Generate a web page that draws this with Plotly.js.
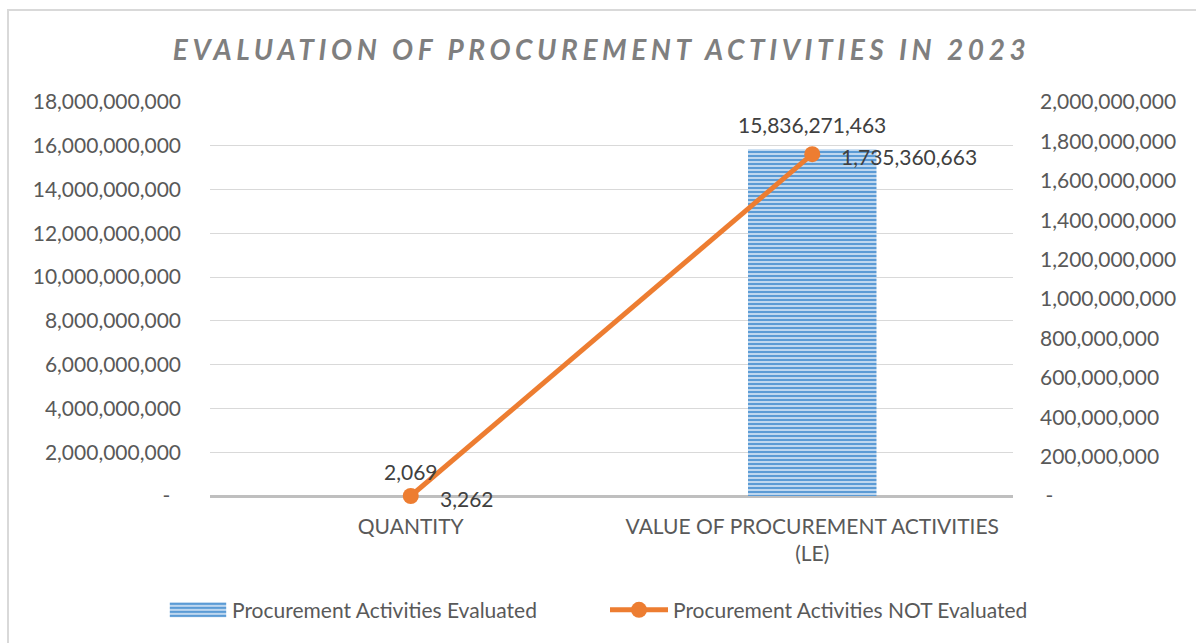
<!DOCTYPE html>
<html>
<head>
<meta charset="utf-8">
<script src="https://cdn.plot.ly/plotly-3.0.1.min.js"></script>
<style>
  html, body { margin: 0; padding: 0; background: #ffffff; overflow: hidden; }
  #chart { position: absolute; left: 0; top: 0; width: 1196px; height: 643px; }
  #frame { position: absolute; left: 7px; top: 9px; width: 1300px; height: 800px;
           border: 2px solid #d9d9d9; pointer-events: none; }
  .gtitle { letter-spacing: 4.6px; }
</style>
</head>
<body>
<div id="chart"></div>
<div id="frame"></div>
<script>
// ---- data ----
const categories = ["QUANTITY", "VALUE OF PROCUREMENT ACTIVITIES<br>(LE)"];
const evaluatedValues = [2069, 15836271463];
const notEvaluatedValues = [3262, 1735360663];
const seriesNames = ["Procurement Activities Evaluated", "Procurement Activities NOT Evaluated"];
const titleText = "EVALUATION OF PROCUREMENT ACTIVITIES IN 2023";

const leftTickVals = [0, 2000000000, 4000000000, 6000000000, 8000000000, 10000000000, 12000000000, 14000000000, 16000000000, 18000000000];
const leftTickText = ["-\u00A0\u00A0", "2,000,000,000", "4,000,000,000", "6,000,000,000", "8,000,000,000", "10,000,000,000", "12,000,000,000", "14,000,000,000", "16,000,000,000", "18,000,000,000"];
const rightTickVals = [0, 200000000, 400000000, 600000000, 800000000, 1000000000, 1200000000, 1400000000, 1600000000, 1800000000, 2000000000];
const rightTickText = ["\u00A0-", "200,000,000", "400,000,000", "600,000,000", "800,000,000", "1,000,000,000", "1,200,000,000", "1,400,000,000", "1,600,000,000", "1,800,000,000", "2,000,000,000"];

const fmt = v => v.toLocaleString("en-US");

const FONT = "Lato, 'Open Sans', sans-serif";
const textColor = "#595959";
const labelColor = "#404040";

const traces = [
  {
    type: "bar",
    name: seriesNames[0],
    legend: "legend",
    x: categories,
    y: evaluatedValues,
    yaxis: "y",
    marker: {
      color: "#9dc3e6",
      line: { width: 0 },
      pattern: { shape: "-", fgcolor: "#5b9bd5", bgcolor: "#c9def2", size: 4, solidity: 0.55, fillmode: "replace" }
    },
    hoverinfo: "skip"
  },
  {
    type: "scatter",
    mode: "lines+markers",
    name: seriesNames[1],
    legend: "legend2",
    x: categories,
    y: notEvaluatedValues,
    yaxis: "y2",
    cliponaxis: false,
    line: { color: "#ed7d31", width: 5 },
    marker: { color: "#ed7d31", size: 16, symbol: "circle" },
    hoverinfo: "skip"
  }
];

// data labels as annotations anchored to the data values
const annotations = [];
categories.forEach((c, i) => {
  annotations.push({
    x: c, y: evaluatedValues[i], xref: "x", yref: "y",
    text: fmt(evaluatedValues[i]), showarrow: false,
    xanchor: "center", yanchor: "middle", yshift: 25,
    font: { family: FONT, size: 21, color: labelColor }
  });
  annotations.push({
    x: c, y: notEvaluatedValues[i], xref: "x", yref: "y2",
    text: fmt(notEvaluatedValues[i]), showarrow: false,
    xanchor: "left", yanchor: "middle", xshift: 27, yshift: -2,
    font: { family: FONT, size: 21, color: labelColor }
  });
});

const legendCommon = {
  orientation: "h",
  xref: "container", yref: "container",
  xanchor: "left", yanchor: "middle",
  y: 0.051,
  font: { family: FONT, size: 21, color: textColor },
  itemwidth: 58,
  bgcolor: "rgba(0,0,0,0)"
};

const layout = {
  width: 1196,
  height: 643,
  paper_bgcolor: "rgba(0,0,0,0)",
  plot_bgcolor: "rgba(0,0,0,0)",
  margin: { l: 210, r: 183, t: 102, b: 147, pad: 0, autoexpand: false },
  font: { family: FONT, size: 21, color: textColor },
  title: {
    text: "<b><i>" + titleText + "</i></b>",
    font: { family: FONT, size: 28, color: "#7f7f7f" },
    x: 0.503, xref: "container", xanchor: "center",
    y: 0.922, yref: "container", yanchor: "middle"
  },
  bargap: 0.68,
  showlegend: true,
  legend: Object.assign({}, legendCommon, { x: 164 / 1196 }),
  legend2: Object.assign({}, legendCommon, { x: 605 / 1196 }),
  annotations: annotations,
  xaxis: {
    type: "category",
    tickfont: { family: FONT, size: 21, color: textColor },
    showgrid: false,
    showline: false,
    ticks: "",
    zeroline: false,
    ticklabelstandoff: 16
  },
  yaxis: {
    range: [0, 18000000000],
    tickvals: leftTickVals,
    ticktext: leftTickText,
    tickfont: { family: FONT, size: 21, color: textColor },
    showgrid: true,
    gridcolor: "#d9d9d9",
    gridwidth: 1,
    zeroline: true,
    zerolinecolor: "#bfbfbf",
    zerolinewidth: 3,
    showline: false,
    ticks: "",
    ticklabelstandoff: 28,
    fixedrange: true
  },
  yaxis2: {
    range: [0, 2000000000],
    overlaying: "y",
    side: "right",
    tickvals: rightTickVals,
    ticktext: rightTickText,
    tickfont: { family: FONT, size: 21, color: textColor },
    showgrid: false,
    zeroline: false,
    showline: false,
    ticks: "",
    ticklabelstandoff: 26,
    fixedrange: true
  }
};

Plotly.newPlot("chart", traces, layout, { displayModeBar: false, staticPlot: true }).then(gd => {
  // widen the bar legend swatch to a rectangle like the original
  gd.querySelectorAll(".legendpoints path").forEach(p => {
    const cls = p.getAttribute("class") || "";
    if (cls.indexOf("scatterpts") === -1) {
      const prev = p.getAttribute("transform") || "";
      p.setAttribute("transform", prev + " scale(4.7,1.25)");
    }
  });
});
</script>
</body>
</html>
